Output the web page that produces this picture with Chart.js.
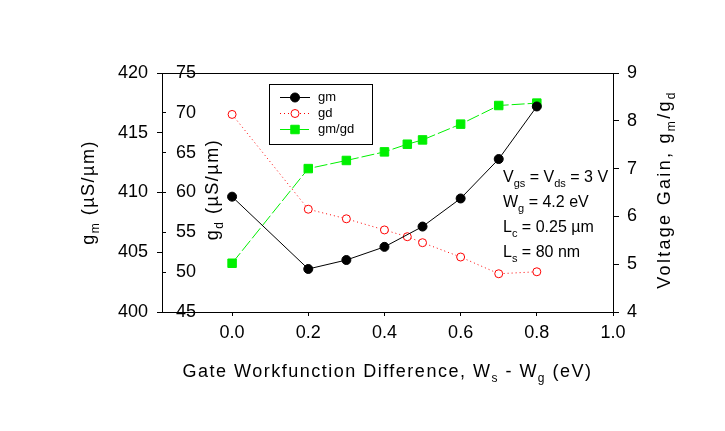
<!DOCTYPE html>
<html lang="en">
<head>
<meta charset="UTF-8">
<title>Voltage Gain vs Gate Workfunction Difference</title>
<script src="https://cdn.jsdelivr.net/npm/chart.js"></script>
<style>
  body { margin: 0; background: #fff; }
</style>
</head>
<body>
<canvas id="gainChart" width="725" height="431"></canvas>
<script>
// values
const xGm = [0, 0.2, 0.3, 0.4, 0.5, 0.6, 0.7, 0.8];
const gmValues = [409.65, 403.6, 404.35, 405.45, 407.15, 409.5, 412.8, 417.2];
const xGd = [0, 0.2, 0.3, 0.4, 0.46, 0.5, 0.6, 0.7, 0.8];
const gdValues = [69.8, 57.9, 56.7, 55.3, 54.45, 53.7, 51.9, 49.8, 50.05];
const gainValues = [5.02, 7.0, 7.17, 7.35, 7.51, 7.6, 7.93, 8.32, 8.37];
const xTicks = [0, 0.2, 0.4, 0.6, 0.8, 1.0];

const FONT = "'Liberation Sans', Arial, sans-serif";
Chart.defaults.font.family = FONT;
Chart.defaults.color = '#000';

function pts(xs, ys) {
    return xs.map((x, i) => ({ x: x, y: ys[i] }));
}

// draw text made of [text, isSub] pieces
function richText(ctx, parts, x, y, size, spacing, align) {
    ctx.save();
    ctx.letterSpacing = spacing + 'px';
    ctx.textBaseline = 'alphabetic';
    ctx.textAlign = 'left';
    const subSize = Math.round(size * 0.68);
    let total = 0;
    const widths = parts.map(p => {
        ctx.font = (p[1] ? subSize : size) + 'px ' + FONT;
        const w = ctx.measureText(p[0]).width;
        total += w;
        return w;
    });
    let cx = align === 'center' ? x - total / 2 : x;
    parts.forEach((p, i) => {
        ctx.font = (p[1] ? subSize : size) + 'px ' + FONT;
        ctx.fillText(p[0], cx, p[1] ? y + size * 0.3 : y);
        cx += widths[i];
    });
    ctx.restore();
}

const decorations = {
    id: 'decorations',
    afterDraw(chart) {
        const ctx = chart.ctx;
        const a = chart.chartArea;
        ctx.save();
        ctx.fillStyle = '#000';
        ctx.strokeStyle = '#000';
        ctx.lineWidth = 1;

        // top frame line
        ctx.beginPath();
        ctx.moveTo(a.left, a.top + 0.5);
        ctx.lineTo(a.right, a.top + 0.5);
        ctx.stroke();

        const midY = (a.top + a.bottom) / 2;

        // x title
        richText(ctx, [['Gate Workfunction Difference, W', 0], ['s', 1], [' - W', 0], ['g', 1], [' (eV)', 0]],
            (a.left + a.right) / 2, 377, 18, 1.5, 'center');

        // left titles
        ctx.save();
        ctx.translate(94, midY);
        ctx.rotate(-Math.PI / 2);
        richText(ctx, [['g', 0], ['m', 1], [' (\u00b5S/\u00b5m)', 0]], 0, 0, 18, 1.5, 'center');
        ctx.restore();

        ctx.save();
        ctx.translate(218, midY - 3);
        ctx.rotate(-Math.PI / 2);
        richText(ctx, [['g', 0], ['d', 1], [' (\u00b5S/\u00b5m)', 0]], 0, 0, 18, 1.5, 'center');
        ctx.restore();

        // right title
        ctx.save();
        ctx.translate(670, midY - 3);
        ctx.rotate(-Math.PI / 2);
        richText(ctx, [['Voltage Gain, g', 0], ['m', 1], ['/g', 0], ['d', 1]], 0, 0, 18, 2.3, 'center');
        ctx.restore();

        // device parameters
        const notes = [
            [['V', 0], ['gs', 1], [' = V', 0], ['ds', 1], [' = 3 V', 0]],
            [['W', 0], ['g', 1], [' = 4.2 eV', 0]],
            [['L', 0], ['c', 1], [' = 0.25 \u00b5m', 0]],
            [['L', 0], ['s', 1], [' = 80 nm', 0]]
        ];
        notes.forEach((n, i) => richText(ctx, n, 503, 182 + i * 25, 16, 0, 'left'));

        // legend box
        ctx.strokeRect(269.5, 84.5, 103, 60);
        chart.data.datasets.forEach((ds, i) => {
            const y = 97 + i * 16;
            ctx.save();
            ctx.strokeStyle = ds.borderColor;
            ctx.setLineDash(ds.borderDash || []);
            ctx.beginPath();
            ctx.moveTo(280, y + 0.5);
            ctx.lineTo(310, y + 0.5);
            ctx.stroke();
            ctx.setLineDash([]);
            ctx.fillStyle = ds.pointBackgroundColor;
            ctx.strokeStyle = ds.pointBorderColor;
            ctx.lineWidth = ds.pointBorderWidth;
            Chart.helpers.drawPoint(ctx, {
                pointStyle: ds.pointStyle, radius: ds.pointRadius, rotation: 0,
                borderWidth: ds.pointBorderWidth
            }, 295, y + 0.5);
            ctx.restore();
            ctx.font = '13px ' + FONT;
            ctx.textBaseline = 'middle';
            ctx.textAlign = 'left';
            ctx.fillText(ds.label, 318, y);
        });
        ctx.restore();
    }
};

const ctx = document.getElementById('gainChart').getContext('2d');
const gainChart = new Chart(ctx, {
    type: 'line',
    data: {
        datasets: [{
            label: 'gm',
            data: pts(xGm, gmValues),
            yAxisID: 'yGm',
            borderColor: '#000',
            borderWidth: 1,
            pointStyle: 'circle',
            pointRadius: 4.5,
            pointBackgroundColor: '#000',
            pointBorderColor: '#000',
            pointBorderWidth: 1
        }, {
            label: 'gd',
            data: pts(xGd, gdValues),
            yAxisID: 'yGd',
            borderColor: '#ff0000',
            borderWidth: 1,
            borderDash: [1, 3],
            pointStyle: 'circle',
            pointRadius: 4,
            pointBackgroundColor: '#fff',
            pointBorderColor: '#ff0000',
            pointBorderWidth: 1
        }, {
            label: 'gm/gd',
            data: pts(xGd, gainValues),
            yAxisID: 'yGain',
            borderColor: '#00f000',
            borderWidth: 1,
            borderDash: [13, 3],
            pointStyle: 'rect',
            pointRadius: 6,
            pointBackgroundColor: '#00f000',
            pointBorderColor: '#00f000',
            pointBorderWidth: 1
        }]
    },
    options: {
        responsive: false,
        animation: false,
        layout: { padding: { top: 73, left: 0, right: 0, bottom: 0 } },
        plugins: { legend: { display: false }, tooltip: { enabled: false } },
        scales: {
            x: {
                type: 'linear',
                min: -0.184,
                max: 1.0,
                afterBuildTicks: s => { s.ticks = xTicks.map(v => ({ value: v })); },
                afterFit: s => { s.height = 119; },
                ticks: { font: { size: 18 }, padding: 6, callback: v => v.toFixed(1), maxRotation: 0 },
                grid: { drawOnChartArea: false, tickLength: 4, color: '#000' },
                border: { color: '#000' }
            },
            yGm: {
                position: 'left',
                weight: 10,
                min: 400,
                max: 420,
                afterFit: s => { s.width = 162; },
                ticks: { stepSize: 5, font: { size: 18 }, padding: 9 },
                grid: { drawOnChartArea: false, tickLength: 5, color: '#000' },
                border: { color: '#000' }
            },
            yGd: {
                position: 'left',
                weight: 0,
                min: 45,
                max: 75,
                afterFit: s => { s.width = 0; },
                ticks: { stepSize: 5, font: { size: 18 }, mirror: true, padding: 14 },
                grid: { drawOnChartArea: false, tickLength: -4, color: '#000' },
                border: { display: false }
            },
            yGain: {
                position: 'right',
                min: 4,
                max: 9,
                afterFit: s => { s.width = 112; },
                ticks: { stepSize: 1, font: { size: 18 }, padding: 8 },
                grid: { drawOnChartArea: false, tickLength: 6, color: '#000' },
                border: { color: '#000' }
            }
        }
    },
    plugins: [decorations]
});
</script>
</body>
</html>
